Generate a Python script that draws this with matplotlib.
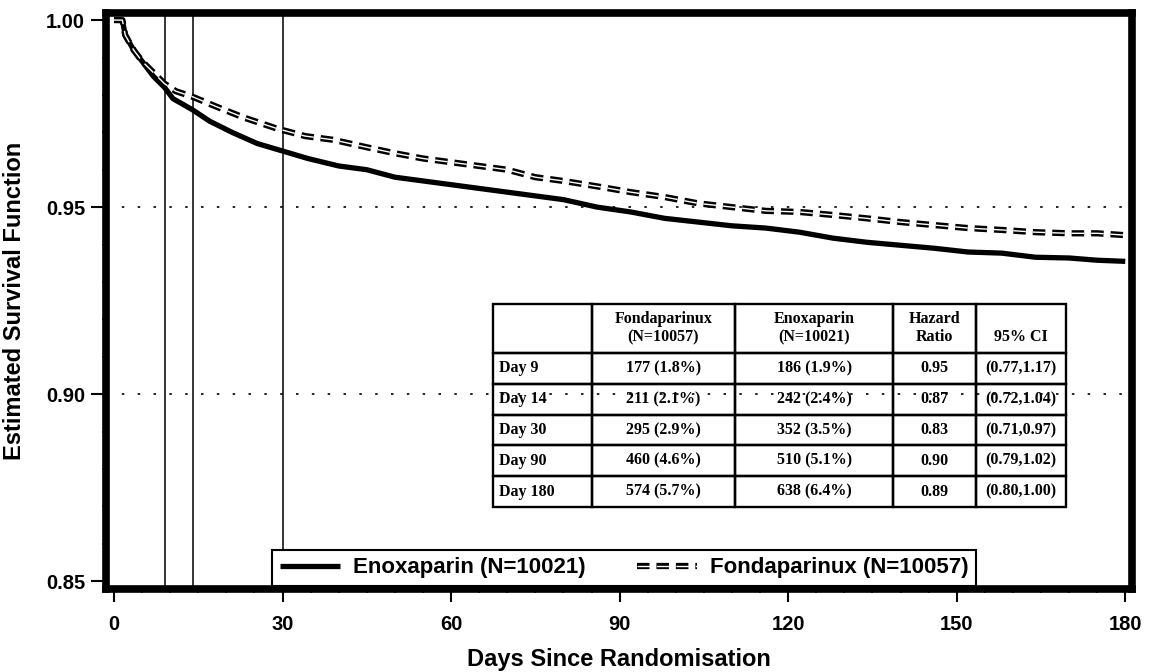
import numpy as np
import matplotlib
matplotlib.use("Agg")
import matplotlib.pyplot as plt
import matplotlib.patheffects as pe
from matplotlib.ticker import MultipleLocator

plt.rcParams['font.family'] = ['Liberation Sans', 'DejaVu Sans']
plt.rcParams['font.weight'] = 'bold'

# curves (day, estimated survival)
days_enox = [0, 1.5, 2, 3.5, 5, 7, 9, 10.5, 14, 17, 21, 25.5, 30, 34.5, 40, 45, 50, 55,
             60, 65, 70, 75, 80, 86, 92, 98, 104, 110, 116, 122, 128, 134, 140, 146,
             152, 158, 164, 170, 175, 180]
surv_enox = [1.000, 1.000, 0.996, 0.992, 0.989, 0.985, 0.982, 0.979, 0.976, 0.973, 0.970,
             0.967, 0.965, 0.963, 0.961, 0.960, 0.958, 0.957, 0.956, 0.955, 0.954, 0.953,
             0.952, 0.950, 0.9487, 0.947, 0.946, 0.945, 0.9444, 0.9433, 0.9417, 0.9406,
             0.9398, 0.939, 0.938, 0.9377, 0.9366, 0.9364, 0.9358, 0.9355]

days_fonda = [0, 1.5, 2, 3.5, 5, 7, 9, 11, 14, 18, 23, 29, 34, 39, 45, 50, 55, 60, 65, 70,
              75, 80, 87, 92, 98, 104, 110, 116, 122, 128, 134, 140, 146, 152, 158, 164,
              170, 175, 180]
surv_fonda = [1.000, 1.000, 0.996, 0.992, 0.989, 0.986, 0.983, 0.981, 0.9795, 0.977, 0.974,
              0.971, 0.969, 0.968, 0.966, 0.9644, 0.963, 0.962, 0.961, 0.960, 0.958, 0.957,
              0.9553, 0.954, 0.9527, 0.951, 0.950, 0.949, 0.9487, 0.9479, 0.947, 0.946,
              0.9452, 0.9444, 0.9439, 0.9433, 0.943, 0.943, 0.9425]

landmarks = [9, 14, 30]
ref_levels = [0.95, 0.90]

col_labels = ['', 'Fondaparinux\n(N=10057)', 'Enoxaparin\n(N=10021)', 'Hazard\nRatio', '\n95% CI']
row_labels = ['Day 9', 'Day 14', 'Day 30', 'Day 90', 'Day 180']
fonda_events = ['177 (1.8%)', '211 (2.1%)', '295 (2.9%)', '460 (4.6%)', '574 (5.7%)']
enox_events = ['186 (1.9%)', '242 (2.4%)', '352 (3.5%)', '510 (5.1%)', '638 (6.4%)']
hazard = ['0.95', '0.87', '0.83', '0.90', '0.89']
ci = ['(0.77,1.17)', '(0.72,1.04)', '(0.71,0.97)', '(0.79,1.02)', '(0.80,1.00)']

fig = plt.figure(figsize=(11.49, 6.72), dpi=100)
ax = fig.add_axes([106/1149, 83/672, 1026/1149, 576/672])

for d in landmarks:
    ax.axvline(d, color='black', lw=1.1, zorder=1)
for lv in ref_levels:
    ax.axhline(lv, color='black', lw=1.2, dashes=(1.5, 8), zorder=1)

ax.plot(days_enox, surv_enox, color='black', lw=3.8, solid_capstyle='butt',
        label='Enoxaparin (N=10021)', zorder=3)
ax.plot(days_fonda, surv_fonda, color='white', lw=1.0, dashes=(9, 5),
        path_effects=[pe.Stroke(linewidth=4.5, foreground='black'), pe.Normal()],
        label='Fondaparinux (N=10057)', zorder=3)

ax.set_xlim(-1.42, 181.2)
ax.set_ylim(0.8479, 1.0019)
ax.set_xticks([0, 30, 60, 90, 120, 150, 180])
ax.set_yticks([0.85, 0.90, 0.95, 1.00])
ax.set_yticklabels(['0.85', '0.90', '0.95', '1.00'])
ax.xaxis.set_minor_locator(MultipleLocator(5))
ax.yaxis.set_minor_locator(MultipleLocator(0.01))
ax.tick_params(axis='both', which='major', labelsize=14.5, width=1.5, direction='out')
ax.tick_params(axis='x', which='major', length=9, pad=10)
ax.tick_params(axis='y', which='major', length=11, pad=4)
ax.tick_params(axis='both', which='minor', length=3, width=1.2, direction='out')
for s in ax.spines.values():
    s.set_linewidth(5.5)

ax.set_xlabel('Days Since Randomisation', fontsize=17, fontweight='bold', labelpad=10)
ax.set_ylabel('Estimated Survival Function', fontsize=17, fontweight='bold', labelpad=14)

# summary table
cells = [[r, f, e, h, c] for r, f, e, h, c in zip(row_labels, fonda_events, enox_events, hazard, ci)]
tab = ax.table(cellText=cells, colLabels=col_labels, bbox=[0.377, 0.142, 0.559, 0.353],
               cellLoc='center', zorder=2)
tab.auto_set_font_size(False)
widths = [99, 143, 158, 83, 90]
for (r, c), cell in tab.get_celld().items():
    cell.set_width(widths[c])
    cell.set_height(49 if r == 0 else 31)
    cell.set_facecolor('none')
    cell.set_edgecolor('black')
    cell.set_linewidth(1.7)
    cell.get_text().set_fontfamily(['Liberation Serif', 'DejaVu Serif'])
    cell.get_text().set_fontweight('bold')
    cell.get_text().set_fontsize(11.5)
    if c == 0 and r > 0:
        cell.get_text().set_horizontalalignment('left')
        cell.PAD = 0.06

leg = ax.legend(loc='lower center', bbox_to_anchor=(0.505, 0.005), ncol=2,
                fontsize=16, frameon=True, fancybox=False, edgecolor='black',
                framealpha=1, borderaxespad=0, borderpad=0.35, handlelength=2.7,
                handletextpad=0.6, columnspacing=2.3)
leg.get_frame().set_linewidth(1.5)
leg.set_zorder(5)
for t in leg.get_texts():
    t.set_fontweight('bold')

fig.savefig('out.png', dpi=100)
